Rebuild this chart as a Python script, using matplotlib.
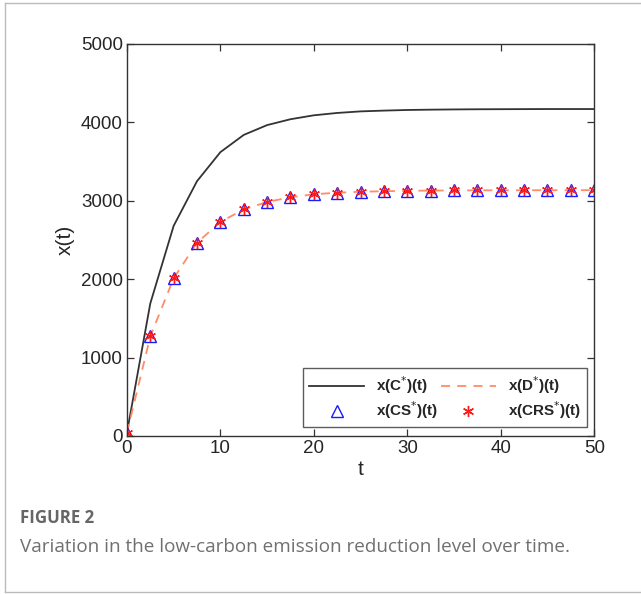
import numpy as np
import matplotlib
matplotlib.use("Agg")
import matplotlib.pyplot as plt
from matplotlib.lines import Line2D

plt.rcParams['font.family'] = ['Liberation Sans', 'DejaVu Sans']

# sample times (every 2.5)
t = [0, 2.5, 5, 7.5, 10, 12.5, 15, 17.5, 20, 22.5, 25, 27.5, 30,
     32.5, 35, 37.5, 40, 42.5, 45, 47.5, 50]

x_c = [40, 1690, 2680, 3250, 3620, 3840, 3965, 4040, 4090, 4120, 4140, 4150, 4158,
       4162, 4165, 4167, 4168, 4169, 4170, 4170, 4170]
x_d = [40, 1270, 2010, 2465, 2730, 2890, 2985, 3045, 3083, 3103, 3115, 3122, 3127,
       3130, 3132, 3133, 3134, 3134, 3135, 3135, 3135]
x_cs = x_d
x_crs = x_d

labels = [r'x(C$^{*}$)(t)', r'x(D$^{*}$)(t)', r'x(CS$^{*}$)(t)', r'x(CRS$^{*}$)(t)']

fig = plt.figure(figsize=(6.41, 5.94), dpi=100)
ax = fig.add_axes([0.198, 0.266, 0.729, 0.660])

ax.plot(t, x_c, color='#333333', lw=1.3)
ax.plot(t, x_d, color='#FF8C66', lw=1.3, ls=(0, (5, 4)))
ax.plot(t, x_cs, ls='none', marker='^', ms=9, mfc='none', mec='#1a1aff', mew=1.0)
ax.plot(t, x_crs, ls='none', marker=(6, 2, 0), ms=8, color='#ff1a1a', mew=1.0)

ax.set_xlim(0, 50)
ax.set_ylim(0, 5000)
ax.set_xticks([0, 10, 20, 30, 40, 50])
ax.set_yticks([0, 1000, 2000, 3000, 4000, 5000])
ax.tick_params(direction='in', top=True, right=True, labelsize=13.5,
               length=5, width=0.9, color='#333333', labelcolor='#262626', pad=3)
for s in ax.spines.values():
    s.set_color('#333333')
    s.set_linewidth(1.0)
ax.set_xlabel('t', fontsize=15, color='#262626', labelpad=2)
ax.set_ylabel('x(t)', fontsize=15, color='#262626', labelpad=4)

handles = [
    Line2D([], [], color='#333333', lw=1.3),
    Line2D([], [], color='#FF8C66', lw=1.3, ls=(0, (5, 4))),
    Line2D([], [], ls='none', marker='^', ms=9, mfc='none', mec='#1a1aff', mew=1.0),
    Line2D([], [], ls='none', marker=(6, 2, 0), ms=8, color='#ff1a1a', mew=1.0),
]
order = [0, 2, 1, 3]
leg = ax.legend([handles[i] for i in order], [labels[i] for i in order], ncol=2,
                loc='lower left', bbox_to_anchor=(0.377, 0.023, 0.608, 0.143),
                mode='expand', fancybox=False, edgecolor='#333333',
                prop={'weight': 'bold', 'size': 11}, handlelength=3.6,
                borderaxespad=0, labelspacing=0.2, columnspacing=1.0)
leg.get_frame().set_linewidth(1.0)
for txt in leg.get_texts():
    txt.set_color('#262626')

# caption
fig.text(20 / 641, 1 - 518 / 594, 'FIGURE 2', fontsize=12.2, color='#666666',
         family='Open Sans', weight='bold', va='center')
fig.text(20 / 641, 1 - 547 / 594,
         'Variation in the low-carbon emission reduction level over time.',
         fontsize=13.6, color='#707070', family='Open Sans', va='center')

# outer frame
for xs, ys in [([4.5 / 641, 1.01], [1 - 2.5 / 594] * 2),
               ([4.5 / 641, 4.5 / 641], [1 - 2.5 / 594, 1 - 592 / 594]),
               ([4.5 / 641, 1.01], [1 - 592 / 594] * 2)]:
    fig.add_artist(Line2D(xs, ys, transform=fig.transFigure, color='#bbbbbb', lw=1.0))

fig.savefig('out.png', dpi=100)
